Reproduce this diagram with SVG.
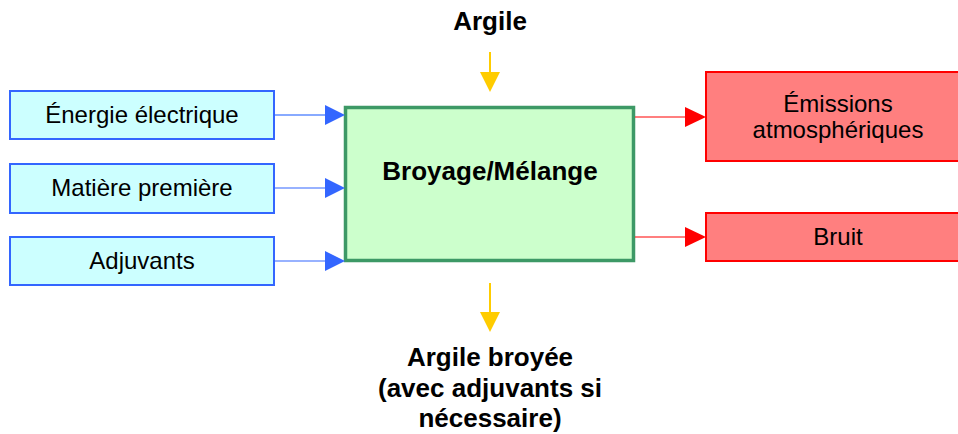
<svg xmlns="http://www.w3.org/2000/svg" width="958" height="434" viewBox="0 0 958 434">
  <style>
    text { font-family: "Liberation Sans", Arial, sans-serif; fill: #000; text-anchor: middle; }
    .in rect { fill: #ccffff; stroke: #3366ff; stroke-width: 2; }
    .out rect { fill: #ff7f7f; stroke: #ff0000; stroke-width: 2; }
    .proc rect { fill: #ccffcc; stroke: #3d9966; stroke-width: 3.5; }
    .lbl { font-size: 24px; }
    .bold { font-size: 26px; font-weight: bold; }
    .blue { stroke: #3366ff; stroke-width: 1.2; }
    .blue-l { stroke: #88aaff; stroke-width: 2; }
    .red { stroke: #ff0000; stroke-width: 1.2; }
    .yel { stroke: #ffcc00; stroke-width: 2; }
  </style>

  <!-- input streams -->
  <g id="energie" class="in">
    <rect x="10" y="91" width="264" height="48"/>
    <text class="lbl" x="142" y="123">Énergie électrique</text>
  </g>
  <g id="matiere" class="in">
    <rect x="10" y="164" width="264" height="49"/>
    <text class="lbl" x="142" y="196">Matière première</text>
  </g>
  <g id="adjuvants" class="in">
    <rect x="10" y="237" width="264" height="48"/>
    <text class="lbl" x="142" y="269">Adjuvants</text>
  </g>

  <!-- process -->
  <g id="broyage" class="proc">
    <rect x="345.5" y="107.5" width="288" height="153"/>
    <text class="bold" x="490" y="180">Broyage/Mélange</text>
  </g>

  <!-- output streams -->
  <g id="emissions" class="out">
    <rect x="706" y="72" width="264" height="89"/>
    <text class="lbl" x="838" y="112">Émissions</text>
    <text class="lbl" x="838" y="138">atmosphériques</text>
  </g>
  <g id="bruit" class="out">
    <rect x="706" y="213" width="264" height="48"/>
    <text class="lbl" x="838" y="245">Bruit</text>
  </g>

  <!-- free labels -->
  <g id="argile">
    <text class="bold" x="490" y="30">Argile</text>
  </g>
  <g id="argile-broyee">
    <text class="bold" x="490" y="366">Argile broyée</text>
    <text class="bold" x="490" y="397">(avec adjuvants si</text>
    <text class="bold" x="490" y="427">nécessaire)</text>
  </g>

  <!-- connectors -->
  <g id="connectors">
    <line class="blue-l" x1="275" y1="115" x2="326" y2="115"/>
    <polygon points="325,105 345,115 325,125" fill="#3366ff"/>
    <line class="blue" x1="275" y1="188" x2="326" y2="188"/>
    <polygon points="325,178 345,188 325,198" fill="#3366ff"/>
    <line class="blue" x1="275" y1="261" x2="326" y2="261"/>
    <polygon points="325,251 345,261 325,271" fill="#3366ff"/>

    <line class="red" x1="635" y1="117" x2="686" y2="117"/>
    <polygon points="685,107 706,117 685,127" fill="#ff0000"/>
    <line class="red" x1="635" y1="237" x2="686" y2="237"/>
    <polygon points="685,227 706,237 685,247" fill="#ff0000"/>

    <line class="yel" x1="490" y1="52" x2="490" y2="73"/>
    <polygon points="480,72 500,72 490,92" fill="#ffcc00"/>
    <line class="yel" x1="490" y1="283" x2="490" y2="313"/>
    <polygon points="480,312 500,312 490,332" fill="#ffcc00"/>
  </g>
</svg>
